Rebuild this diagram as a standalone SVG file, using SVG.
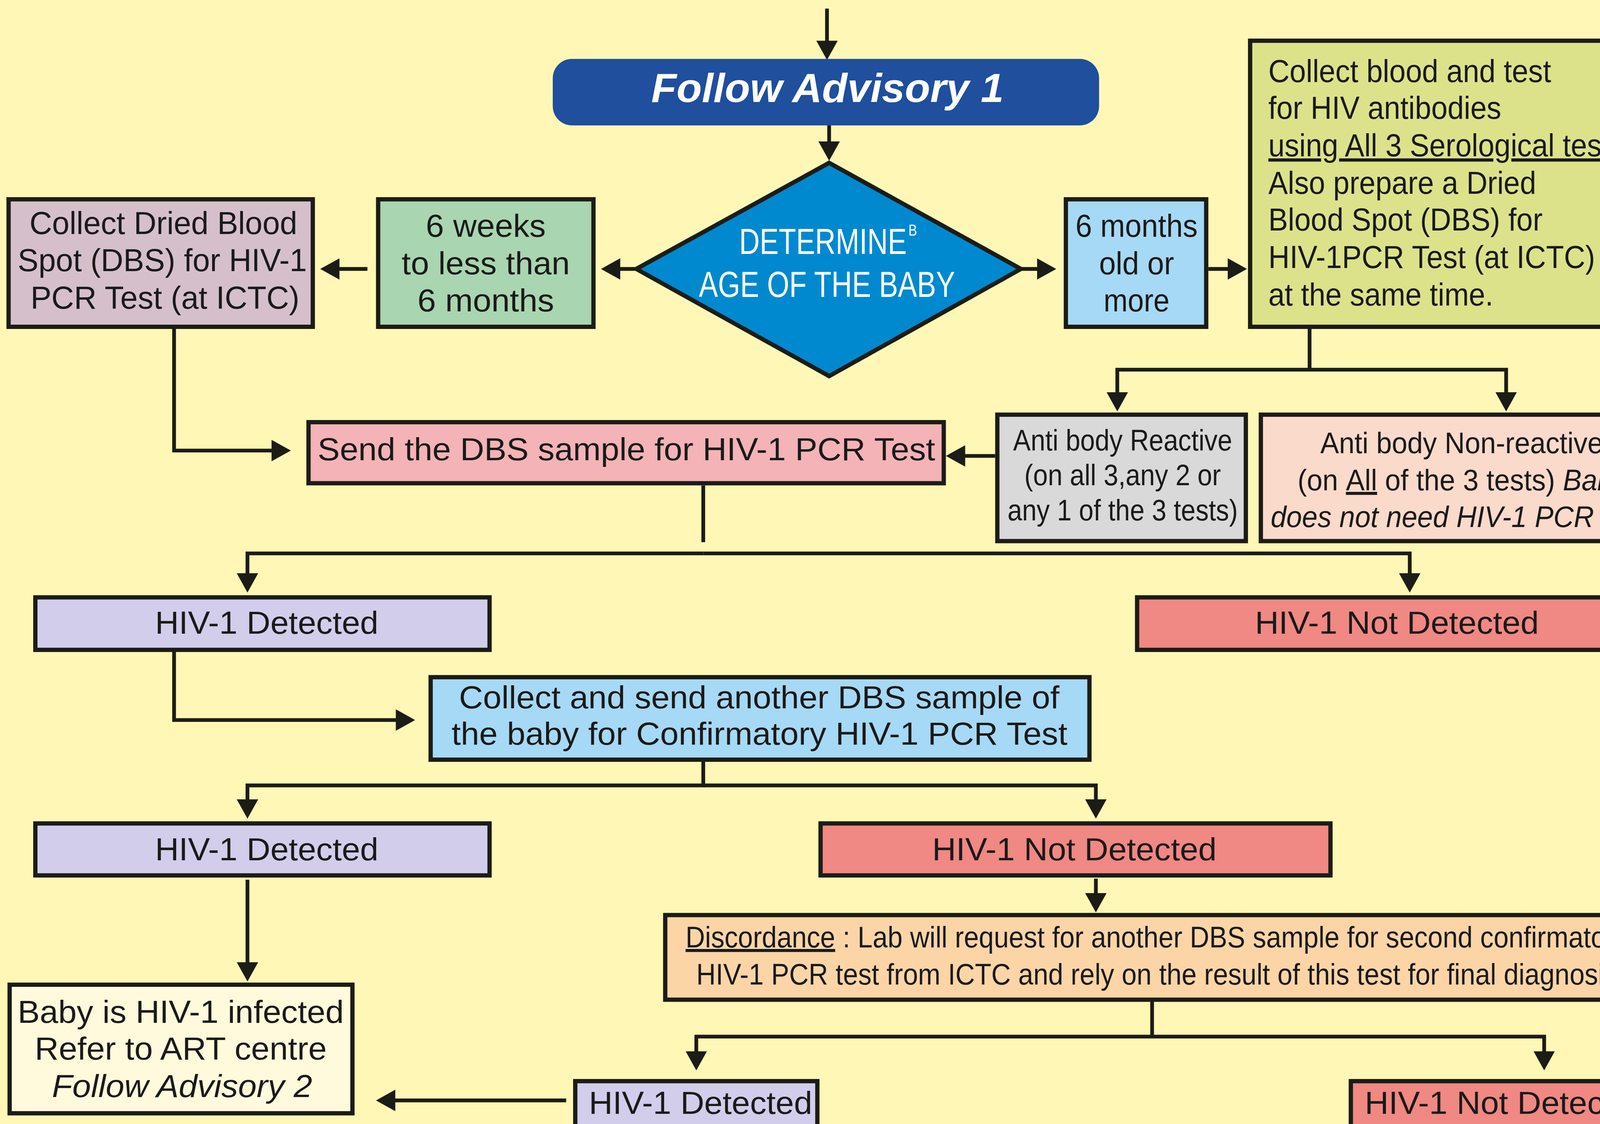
<svg xmlns="http://www.w3.org/2000/svg" width="4300" height="2877" viewBox="0 0 4300 2877">
<defs>
<style>
.bx{stroke:#1c1c16;stroke-width:4}
.t{font-family:"Liberation Sans",Arial,Helvetica,sans-serif;font-size:30px;fill:#1a1a1a}
.c{text-anchor:middle}
.s{font-size:28px}
.w{fill:#ffffff}
.ln{fill:none;stroke:#1c1c16;stroke-width:3.5;stroke-linejoin:miter;marker-end:url(#ah)}
.pl{fill:none;stroke:#1c1c16;stroke-width:3.5}
</style>
<marker id="ah" viewBox="0 0 18 20" refX="10" refY="10" markerWidth="18" markerHeight="20" markerUnits="userSpaceOnUse" orient="auto">
<path d="M0,0 L18,10 L0,20 Z" fill="#1c1c16"/>
</marker>
</defs>
<rect x="0" y="0" width="4300" height="2877" fill="#FFF7B5"/>
<g transform="scale(2.74235,2.74261)">
<g id="connectors">
<path class="ln" d="M772,8 V48"/>
<path class="ln" d="M774,117 V142"/>
<path class="ln" d="M594,251 H569"/>
<path class="ln" d="M343,251 H307"/>
<path class="ln" d="M953,251 H978"/>
<path class="ln" d="M1128,251 H1156"/>
<path class="ln" d="M1222.5,306 V345 H1043 V376"/>
<path class="ln" d="M1222.5,345 H1406 V376"/>
<path class="ln" d="M929,425.5 H891"/>
<path class="ln" d="M162.5,307 V420.5 H263.5"/>
<path class="pl" d="M656.5,453 V506"/>
<path class="ln" d="M656.5,516.5 H231 V545"/>
<path class="ln" d="M656.5,516.5 H1316 V545"/>
<path class="ln" d="M162.5,608 V672 H379.5"/>
<path class="ln" d="M656.5,711 V733 H231 V756"/>
<path class="ln" d="M656.5,733 H1023 V756"/>
<path class="ln" d="M231,821 V908"/>
<path class="ln" d="M1023,820 V843.5"/>
<path class="ln" d="M1075.5,934.7 V967.4 H650 V991"/>
<path class="ln" d="M1075.5,967.4 H1441.5 V991"/>
<path class="ln" d="M528.5,1027 H359"/>
</g>

<g id="follow_advisory_1">
<rect x="516" y="55" width="510" height="62" rx="18" ry="18" fill="#1F4F9D"/>
<text class="t c w" x="772.5" y="95" style="font-size:38px;font-weight:bold;font-style:italic" textLength="329" lengthAdjust="spacingAndGlyphs">Follow Advisory 1</text>
</g>

<g id="determine_age">
<polygon class="bx" points="774,152 953,251 774,351 594,251" fill="#0089CF"/>
<text class="t w" x="690" y="237" style="font-size:34px" textLength="156.5" lengthAdjust="spacingAndGlyphs">DETERMINE</text>
<text class="t w" x="848" y="220" style="font-size:15px" textLength="8" lengthAdjust="spacingAndGlyphs">B</text>
<text class="t w" x="652.5" y="277" style="font-size:34px" textLength="239" lengthAdjust="spacingAndGlyphs">AGE OF THE BABY</text>
</g>

<g id="collect_dbs">
<rect class="bx" x="8" y="186" width="284" height="119" fill="#D5BFCB"/>
<text class="t c" x="152.5" y="218.5" textLength="250" lengthAdjust="spacingAndGlyphs">Collect Dried Blood</text>
<text class="t c" x="151.5" y="253" textLength="270" lengthAdjust="spacingAndGlyphs">Spot (DBS) for HIV-1</text>
<text class="t c" x="154" y="288" textLength="251" lengthAdjust="spacingAndGlyphs">PCR Test (at ICTC)</text>
</g>

<g id="six_weeks">
<rect class="bx" x="353" y="186" width="201" height="119" fill="#A9D5B0"/>
<text class="t c" x="453.5" y="221" textLength="112" lengthAdjust="spacingAndGlyphs">6 weeks</text>
<text class="t c" x="453.5" y="256" textLength="157" lengthAdjust="spacingAndGlyphs">to less than</text>
<text class="t c" x="453.5" y="290.5" textLength="127.5" lengthAdjust="spacingAndGlyphs">6 months</text>
</g>

<g id="six_months">
<rect class="bx" x="995" y="186" width="131" height="119" fill="#A6D9F5"/>
<text class="t c" x="1061" y="221" textLength="114" lengthAdjust="spacingAndGlyphs">6 months</text>
<text class="t c" x="1061" y="256" textLength="70" lengthAdjust="spacingAndGlyphs">old or</text>
<text class="t c" x="1061" y="290.5" textLength="61.5" lengthAdjust="spacingAndGlyphs">more</text>
</g>

<g id="collect_blood_test">
<rect class="bx" x="1167" y="38" width="373" height="267" fill="#DCE28A"/>
<text class="t" x="1184" y="76.7" textLength="264" lengthAdjust="spacingAndGlyphs">Collect blood and test</text>
<text class="t" x="1184" y="111" textLength="217.5" lengthAdjust="spacingAndGlyphs">for HIV antibodies</text>
<text class="t" x="1184" y="146" textLength="340" lengthAdjust="spacingAndGlyphs"><tspan text-decoration="underline">using All 3 Serological tests</tspan>.</text>
<text class="t" x="1184" y="181" textLength="250" lengthAdjust="spacingAndGlyphs">Also prepare a Dried</text>
<text class="t" x="1184" y="215" textLength="256" lengthAdjust="spacingAndGlyphs">Blood Spot (DBS) for</text>
<text class="t" x="1184" y="250" textLength="305" lengthAdjust="spacingAndGlyphs">HIV-1PCR Test (at ICTC)</text>
<text class="t" x="1184" y="285" textLength="210" lengthAdjust="spacingAndGlyphs">at the same time.</text>
</g>

<g id="antibody_reactive">
<rect class="bx" x="931" y="387" width="232" height="118" fill="#D9D9D9"/>
<text class="t c s" x="1048" y="420.4" textLength="204.5" lengthAdjust="spacingAndGlyphs">Anti body Reactive</text>
<text class="t c s" x="1048" y="453" textLength="183.5" lengthAdjust="spacingAndGlyphs">(on all 3,any 2 or</text>
<text class="t c s" x="1048" y="485.5" textLength="215" lengthAdjust="spacingAndGlyphs">any 1 of the 3 tests)</text>
</g>

<g id="antibody_nonreactive">
<rect class="bx" x="1177" y="387" width="376" height="118" fill="#FADACA"/>
<text class="t c s" x="1364.5" y="423" textLength="264" lengthAdjust="spacingAndGlyphs">Anti body Non-reactive</text>
<text class="t c s" x="1365" y="457.6" textLength="307.5" lengthAdjust="spacingAndGlyphs">(on <tspan text-decoration="underline">All</tspan> of the 3 tests) <tspan font-style="italic">Baby</tspan></text>
<text class="t c s" x="1365" y="492" font-style="italic" textLength="357.5" lengthAdjust="spacingAndGlyphs">does not need HIV-1 PCR Test</text>
</g>

<g id="send_dbs">
<rect class="bx" x="288" y="394" width="593" height="57" fill="#F4B3B6"/>
<text class="t" x="296.5" y="429.7" textLength="576.5" lengthAdjust="spacingAndGlyphs">Send the DBS sample for HIV-1 PCR Test</text>
</g>

<g id="detected_1">
<rect class="bx" x="33" y="557.5" width="424" height="49" fill="#D1CDEB"/>
<text class="t c" x="249" y="591.3" textLength="208.5" lengthAdjust="spacingAndGlyphs">HIV-1 Detected</text>
</g>

<g id="not_detected_1">
<rect class="bx" x="1061.5" y="557.5" width="476.5" height="49" fill="#F08883"/>
<text class="t c" x="1304" y="591.3" textLength="265" lengthAdjust="spacingAndGlyphs">HIV-1 Not Detected</text>
</g>

<g id="collect_another">
<rect class="bx" x="402" y="632" width="615" height="77" fill="#A6D9F5"/>
<text class="t c" x="708.75" y="661" textLength="560.5" lengthAdjust="spacingAndGlyphs">Collect and send another DBS sample of</text>
<text class="t c" x="709" y="694.8" textLength="575" lengthAdjust="spacingAndGlyphs">the baby for Confirmatory HIV-1 PCR Test</text>
</g>

<g id="detected_2">
<rect class="bx" x="33" y="768.5" width="424" height="48.5" fill="#D1CDEB"/>
<text class="t c" x="249" y="803" textLength="208.5" lengthAdjust="spacingAndGlyphs">HIV-1 Detected</text>
</g>

<g id="not_detected_2">
<rect class="bx" x="766" y="768.5" width="476" height="48.5" fill="#F08883"/>
<text class="t c" x="1003" y="803" textLength="265.5" lengthAdjust="spacingAndGlyphs">HIV-1 Not Detected</text>
</g>

<g id="baby_infected">
<rect class="bx" x="9" y="919" width="320" height="120" fill="#FFFADC"/>
<text class="t c" x="168.75" y="954.5" textLength="304.5" lengthAdjust="spacingAndGlyphs">Baby is HIV-1 infected</text>
<text class="t c" x="168.75" y="989" textLength="272.5" lengthAdjust="spacingAndGlyphs">Refer to ART centre</text>
<text class="t c" x="170" y="1023.8" font-style="italic" textLength="243" lengthAdjust="spacingAndGlyphs">Follow Advisory 2</text>
</g>

<g id="discordance">
<rect class="bx" x="621" y="854" width="918.5" height="79" fill="#FBD5A6"/>
<text class="t s" x="640" y="884.2" textLength="880" lengthAdjust="spacingAndGlyphs"><tspan text-decoration="underline">Discordance</tspan> : Lab will request for another DBS sample for second confirmatory</text>
<text class="t s" x="650" y="918.8" textLength="860" lengthAdjust="spacingAndGlyphs">HIV-1 PCR test from ICTC and rely on the result of this test for final diagnosis</text>
</g>

<g id="detected_3">
<rect class="bx" x="537" y="1009" width="226" height="60" fill="#D1CDEB"/>
<text class="t c" x="654" y="1039.5" textLength="208.5" lengthAdjust="spacingAndGlyphs">HIV-1 Detected</text>
</g>

<g id="not_detected_3">
<rect class="bx" x="1261" y="1009" width="283.5" height="60" fill="#F08883"/>
<text class="t c" x="1407" y="1039.5" textLength="266" lengthAdjust="spacingAndGlyphs">HIV-1 Not Detected</text>
</g>
</g>
</svg>
